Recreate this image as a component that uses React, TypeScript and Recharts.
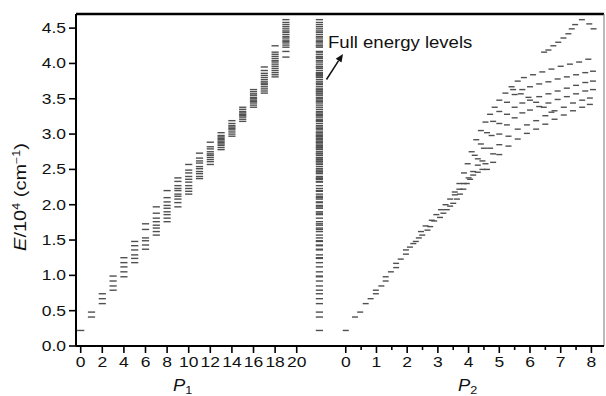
import React from "react";
import { ScatterChart, Scatter, XAxis, YAxis, ReferenceLine } from "recharts";

const W = 606;
const H = 396;

// Axis ticks
const P1_TICKS = [0, 2, 4, 6, 8, 10, 12, 14, 16, 18, 20];
const P2_TICKS = [0, 1, 2, 3, 4, 5, 6, 7, 8];
const P2_MINOR_TICKS = [0.5, 1.5, 2.5, 3.5, 4.5, 5.5, 6.5, 7.5];
const E_TICKS = [0, 0.5, 1, 1.5, 2, 2.5, 3, 3.5, 4, 4.5];

// Domains (shared pixel span for both P scales)
const P1_DOMAIN: [number, number] = [-0.435, 48.45];
const P2_DOMAIN: [number, number] = [-8.785, 8.41];
const E_DOMAIN: [number, number] = [0, 4.7];
const FULL_COLUMN_P1 = 22.1;

// Energy levels (10^4 cm^-1) grouped by P1 = index
const LEVELS_BY_P1: number[][] = [
  [0.22],
  [0.41, 0.48],
  [0.6, 0.67, 0.74],
  [0.79, 0.85, 0.92, 0.99],
  [0.98, 1.05, 1.12, 1.18, 1.25],
  [1.18, 1.24, 1.29, 1.36, 1.42, 1.48],
  [1.37, 1.43, 1.49, 1.53, 1.65, 1.73],
  [1.57, 1.62, 1.67, 1.71, 1.76, 1.81, 1.88, 1.97],
  [1.76, 1.81, 1.86, 1.9, 1.95, 1.99, 2.04, 2.1, 2.2],
  [1.97, 2.03, 2.08, 2.12, 2.15, 2.2, 2.23, 2.27, 2.33, 2.38],
  [2.15, 2.19, 2.23, 2.27, 2.32, 2.36, 2.4, 2.45, 2.49, 2.57],
  [2.37, 2.4, 2.44, 2.47, 2.51, 2.54, 2.59, 2.62, 2.66, 2.73],
  [2.57, 2.61, 2.64, 2.67, 2.7, 2.72, 2.75, 2.79, 2.82, 2.885],
  [2.78, 2.81, 2.84, 2.86, 2.88, 2.9, 2.92, 2.94, 2.96, 2.98, 3.02],
  [2.97, 3.0, 3.03, 3.06, 3.08, 3.1, 3.12, 3.15, 3.19],
  [3.18, 3.21, 3.24, 3.26, 3.28, 3.3, 3.32, 3.35, 3.38],
  [3.38, 3.41, 3.44, 3.46, 3.48, 3.5, 3.52, 3.55, 3.57, 3.6, 3.63],
  [3.58, 3.61, 3.64, 3.67, 3.7, 3.72, 3.74, 3.77, 3.8, 3.83, 3.86, 3.9, 3.95],
  [3.81, 3.84, 3.87, 3.9, 3.93, 3.96, 3.99, 4.02, 4.04, 4.07, 4.1, 4.13, 4.16, 4.25],
  [4.09, 4.17, 4.23, 4.26, 4.29, 4.31, 4.33, 4.36, 4.38, 4.41, 4.44, 4.46, 4.49, 4.52, 4.55, 4.58, 4.62],
];

// Levels against P2: [P2, E]
const P2_TRUNK_A: [number, number][] = [
  [0.0, 0.22], [0.3, 0.41], [0.47, 0.48], [0.65, 0.6], [0.81, 0.67], [0.98, 0.74],
  [1.16, 0.85], [1.3, 0.92], [1.47, 1.05], [1.64, 1.11], [1.79, 1.23], [1.96, 1.3],
  [2.09, 1.4], [2.28, 1.48], [2.38, 1.53], [2.49, 1.57], [2.66, 1.64], [2.75, 1.69],
  [2.88, 1.77], [3.07, 1.82], [3.18, 1.88], [3.29, 1.93], [3.4, 1.98], [3.5, 2.02],
  [3.62, 2.08], [3.72, 2.15], [3.83, 2.22], [3.94, 2.3], [4.05, 2.36], [4.15, 2.42],
  [4.3, 2.46], [4.45, 2.5],
];
const P2_TRUNK_B: [number, number][] = [
  [0.98, 0.79], [1.3, 0.98], [1.64, 1.17], [1.96, 1.36], [2.2, 1.45], [2.45, 1.62],
  [2.6, 1.7], [2.8, 1.78], [2.95, 1.86], [3.1, 1.93], [3.25, 2.0], [3.4, 2.08],
  [3.55, 2.14], [3.7, 2.22], [3.85, 2.3], [4.0, 2.38], [4.15, 2.47], [4.3, 2.56],
];
const P2_BRANCH_1: [number, number][] = [
  [3.55, 2.18], [3.7, 2.3], [3.85, 2.45], [3.97, 2.58], [4.1, 2.75], [4.25, 2.92],
  [4.4, 3.05], [4.55, 3.17], [4.7, 3.28], [4.85, 3.38], [5.0, 3.48], [5.2, 3.58],
  [5.4, 3.67], [5.6, 3.75], [5.8, 3.8], [6.1, 3.84], [6.4, 3.88], [6.7, 3.92],
  [7.0, 3.96], [7.3, 3.99], [7.6, 4.02], [7.9, 4.06],
];
const P2_BRANCH_2: [number, number][] = [
  [4.2, 2.7], [4.4, 2.86], [4.6, 3.02], [4.8, 3.18], [5.0, 3.32], [5.25, 3.45],
  [5.5, 3.56], [5.75, 3.63], [6.0, 3.67], [6.3, 3.71], [6.6, 3.74], [6.9, 3.78],
  [7.2, 3.81], [7.5, 3.84], [7.8, 3.87], [8.05, 3.89],
];
const P2_BRANCH_3: [number, number][] = [
  [4.3, 2.65], [4.5, 2.8], [4.75, 2.98], [5.0, 3.15], [5.25, 3.28], [5.5, 3.38],
  [5.75, 3.44], [6.0, 3.48], [6.3, 3.53], [6.6, 3.57], [6.9, 3.61], [7.2, 3.65],
  [7.5, 3.69], [7.8, 3.73], [8.05, 3.75],
];
const P2_BRANCH_4: [number, number][] = [
  [4.45, 2.62], [4.7, 2.8], [5.0, 3.0], [5.25, 3.13], [5.5, 3.23], [5.75, 3.3],
  [6.0, 3.34], [6.3, 3.39], [6.6, 3.44], [6.9, 3.49], [7.2, 3.53], [7.5, 3.57],
  [7.8, 3.61], [8.05, 3.63],
];
const P2_BRANCH_5: [number, number][] = [
  [4.55, 2.58], [4.8, 2.72], [5.0, 2.85], [5.3, 2.97], [5.6, 3.07], [5.9, 3.13],
  [6.2, 3.19], [6.5, 3.26], [6.8, 3.33], [7.1, 3.38], [7.4, 3.44], [7.7, 3.48], [7.95, 3.51],
];
const P2_BRANCH_6: [number, number][] = [
  [4.6, 2.5], [4.8, 2.6], [5.0, 2.71], [5.3, 2.83], [5.6, 2.93], [5.9, 3.01],
  [6.2, 3.07], [6.5, 3.14], [6.8, 3.21], [7.1, 3.27], [7.4, 3.33], [7.7, 3.38], [7.95, 3.42],
];
const P2_CROSS: [number, number][] = [
  [5.45, 3.63], [5.7, 3.57], [5.95, 3.52], [6.2, 3.45], [6.45, 3.38], [6.7, 3.31],
];
const P2_TOP_CLUSTER: [number, number][] = [
  [6.46, 4.16], [6.6, 4.19], [6.76, 4.25], [6.92, 4.3], [7.09, 4.36], [7.25, 4.42],
  [7.36, 4.49], [7.47, 4.55], [7.69, 4.62], [7.93, 4.56], [8.07, 4.49],
];

// ---- derived data for the library ----
const leftData = LEVELS_BY_P1.flatMap((levels, p) => levels.map((e) => ({ x: p, y: e })));
const fullData = Array.from(new Set(LEVELS_BY_P1.flat()))
  .sort((a, b) => a - b)
  .map((e) => ({ x: FULL_COLUMN_P1, y: e }));
const rightData = [
  ...P2_TRUNK_A, ...P2_TRUNK_B, ...P2_BRANCH_1, ...P2_BRANCH_2, ...P2_BRANCH_3,
  ...P2_BRANCH_4, ...P2_BRANCH_5, ...P2_BRANCH_6, ...P2_CROSS, ...P2_TOP_CLUSTER,
].map(([p, e]) => ({ x: p, y: e }));

const p2ToP1 = (v: number) =>
  P1_DOMAIN[0] + ((v - P2_DOMAIN[0]) * (P1_DOMAIN[1] - P1_DOMAIN[0])) / (P2_DOMAIN[1] - P2_DOMAIN[0]);

type TickDef = { pos: number; label: string; major: boolean };
const X_TICK_DEFS: TickDef[] = [
  ...P1_TICKS.map((v) => ({ pos: v, label: String(v), major: true })),
  ...P2_TICKS.map((v) => ({ pos: p2ToP1(v), label: String(v), major: true })),
  ...P2_MINOR_TICKS.map((v) => ({ pos: p2ToP1(v), label: "", major: false })),
];

const FONT = "'Liberation Sans', Arial, Helvetica, sans-serif";
const DASH_COLOR = "#505050";

const makeDash = (half: number) => (props: any) => {
  const { cx, cy } = props;
  if (cx == null || cy == null) return <g />;
  return <line x1={cx - half} x2={cx + half} y1={cy} y2={cy} stroke={DASH_COLOR} strokeWidth={1.4} />;
};

const XTick = (props: any) => {
  const { x, y, payload } = props;
  const t = X_TICK_DEFS.find((d) => Math.abs(d.pos - payload.value) < 1e-6);
  if (!t) return <g />;
  return (
    <g>
      <line x1={x} x2={x} y1={y} y2={y + (t.major ? 7 : 4)} stroke="#000" strokeWidth={1.6} />
      {t.label ? (
        <text
          transform={`translate(${x},${y + 21}) scale(1.25,1)`}
          textAnchor="middle"
          fontSize={14}
          fontFamily={FONT}
          fill="#111"
        >
          {t.label}
        </text>
      ) : null}
    </g>
  );
};

const YTick = (props: any) => {
  const { x, y, payload } = props;
  return (
    <text
      transform={`translate(${x},${y + 5}) scale(1.25,1)`}
      textAnchor="end"
      fontSize={14}
      fontFamily={FONT}
      fill="#111"
    >
      {Number(payload.value).toFixed(1)}
    </text>
  );
};

export default function App() {
  return (
    <div style={{ position: "absolute", left: 0, top: 0, width: W, height: H, background: "#fff" }}>
      <ScatterChart width={W} height={H} margin={{ top: 14, right: 2, bottom: 20, left: 16 }}>
        <XAxis
          xAxisId="p1"
          type="number"
          dataKey="x"
          domain={P1_DOMAIN}
          allowDataOverflow
          ticks={X_TICK_DEFS.map((d) => d.pos)}
          interval={0}
          tick={<XTick />}
          tickLine={false}
          tickSize={0}
          tickMargin={0}
          height={30}
          axisLine={{ stroke: "#000", strokeWidth: 2 }}
        />
        <XAxis xAxisId="p2" type="number" dataKey="x" domain={P2_DOMAIN} allowDataOverflow hide />
        <YAxis
          type="number"
          dataKey="y"
          domain={E_DOMAIN}
          allowDataOverflow
          ticks={E_TICKS}
          interval={0}
          width={60}
          tickSize={7}
          tickMargin={3}
          tick={<YTick />}
          tickLine={{ stroke: "#000", strokeWidth: 1.6 }}
          axisLine={{ stroke: "#000", strokeWidth: 2 }}
        />
        <ReferenceLine xAxisId="p1" y={E_DOMAIN[1]} stroke="#000" strokeWidth={2.4} />
        <ReferenceLine xAxisId="p1" x={P1_DOMAIN[1]} stroke="#777" strokeWidth={1} />
        <Scatter xAxisId="p1" data={leftData} shape={makeDash(3.6)} isAnimationActive={false} />
        <Scatter xAxisId="p1" data={fullData} shape={makeDash(3.6)} isAnimationActive={false} />
        <Scatter xAxisId="p2" data={rightData} shape={makeDash(3)} isAnimationActive={false} />
      </ScatterChart>
      <svg
        width={W}
        height={H}
        style={{ position: "absolute", left: 0, top: 0, pointerEvents: "none" }}
        fontFamily={FONT}
      >
        <text transform="translate(26,197) rotate(-90) scale(1.25,1)" textAnchor="middle" fontSize={16} fill="#111">
          <tspan fontStyle="italic">E</tspan>
          <tspan>/10</tspan>
          <tspan fontSize={10} dy={-6}>4</tspan>
          <tspan dy={6}> (cm</tspan>
          <tspan fontSize={10} dy={-6}>−1</tspan>
          <tspan dy={6}>)</tspan>
        </text>
        <text transform="translate(173,391) scale(1.15,1)" fontSize={16} fill="#111">
          <tspan fontStyle="italic">P</tspan>
          <tspan fontSize={11} dy={3}>1</tspan>
        </text>
        <text transform="translate(458,391) scale(1.15,1)" fontSize={16} fill="#111">
          <tspan fontStyle="italic">P</tspan>
          <tspan fontSize={11} dy={3}>2</tspan>
        </text>
        <text transform="translate(328,47.7) scale(1.16,1)" fontSize={16} fill="#111">
          Full energy levels
        </text>
        <line x1={326.5} y1={79.5} x2={338.6} y2={60.7} stroke="#111" strokeWidth={1.5} />
        <polygon points="343,54 341.5,62.6 335.7,58.8" fill="#111" />
      </svg>
    </div>
  );
}
